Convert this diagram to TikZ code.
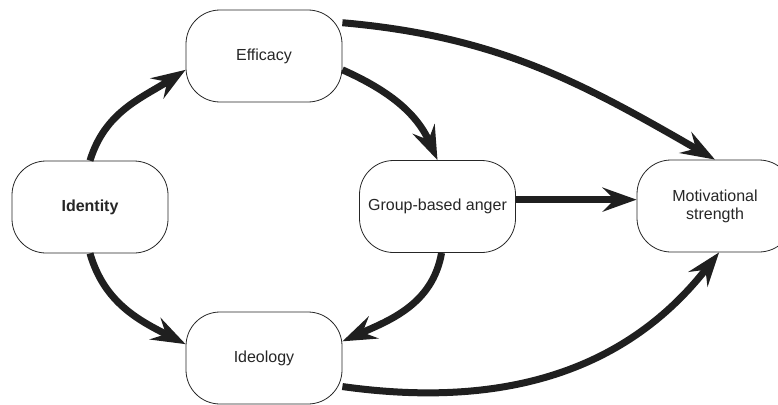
\documentclass[tikz,border=0pt]{standalone}
\usepackage{fontspec}
\setmainfont{Liberation Sans}
\usetikzlibrary{arrows.meta}

\begin{document}
\begin{tikzpicture}[x=1pt, y=1pt,
            box/.style={draw=black!85, line width=.8pt, rounded corners=34pt,
                        minimum width=156pt, minimum height=92pt, align=center,
                        text=black!85, font=\fontsize{16}{18}\selectfont},
            link/.style={draw=black!88, line width=7pt,
                         -{Stealth[length=34pt, width=24pt, inset=12pt]}}]
            \useasboundingbox (0,0) rectangle (778,-404);
            \clip (0,0) rectangle (778,-404);
            % boxes
            \node[box, font=\fontsize{16}{18}\selectfont\bfseries] (identity) at (90,-207) {Identity};
            \node[box] (efficacy) at (264,-56) {Efficacy};
            \node[box] (ideology) at (264,-358) {Ideology};
            \node[box] (anger) at (437.5,-206.5) {Group-based anger};
            \node[box] (motiv) at (715,-206) {Motivational\\strength};
            % arrows
            \draw[link] (identity.north) to[out=73, in=213] (efficacy.190);
            \draw[link] (identity.south) to[out=-74, in=153] (ideology.170);
            \draw[link] (efficacy.-10) to[out=-24, in=114] (anger.north);
            \draw[link] (efficacy.23) to[out=-5, in=150] (motiv.north);
            \draw[link] (anger.5) -- (anger.5 -| motiv.west);
            \draw[link] (anger.-85) to[out=-100, in=24] (ideology.12);
            \draw[link] (ideology.-20) to[out=-8, in=232] (motiv.-85);
\end{tikzpicture}
\end{document}
